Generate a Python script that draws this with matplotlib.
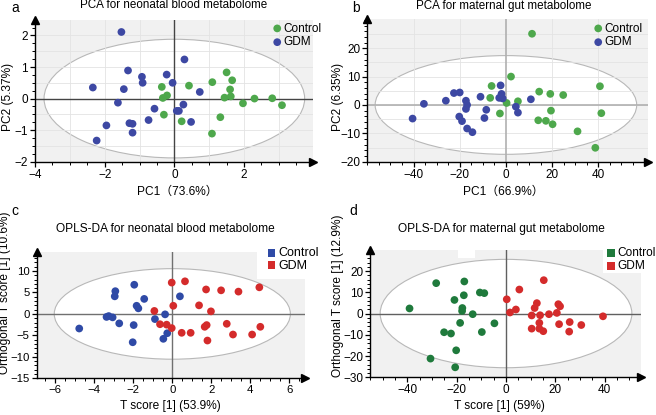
import matplotlib
matplotlib.use("Agg")
import matplotlib.pyplot as plt
from matplotlib.patches import Ellipse, Rectangle
from matplotlib.ticker import MultipleLocator, FixedLocator
import numpy as np

plt.rcParams['font.family'] = ['Liberation Sans', 'Noto Sans CJK SC', 'DejaVu Sans']

W, H = 656, 415

# ---------------- data ----------------
# a: PCA neonatal blood
a_ctrl_x = [-0.36, -0.33, -0.21, -0.30, 0.42, 0.21, 1.09, 1.50, 1.66, 1.60, 1.44, 1.62, 1.97, 2.30, 2.81, 3.09, 1.32, 1.08]
a_ctrl_y = [0.37, 0.02, 0.10, -0.51, 0.41, -0.72, 0.52, 0.83, 0.58, 0.29, 0.03, 0.07, -0.15, 0.00, 0.01, -0.21, -0.59, -1.11]
a_gdm_x = [-1.52, -2.34, -1.33, -0.93, -0.91, -1.45, -1.62, -0.22, -0.05, -0.57, -0.74, -1.29, -1.20, -1.20, -1.95, -2.23,
           0.29, 0.73, 0.26, 0.07, 0.13, 0.48]
a_gdm_y = [2.11, 0.35, 0.89, 0.69, 0.50, 0.30, -0.13, 0.76, 0.50, -0.32, -0.68, -0.78, -0.80, -1.08, -0.85, -1.33,
           1.24, 0.21, -0.19, -0.39, -0.39, -0.74]

# b: PCA maternal gut
b_ctrl_x = [11.3, 2.2, -6.2, -6.8, -2.6, 0.3, 5.2, 14.4, 19.2, 24.8, 19.5, 14.0, 17.3, 20.2, 31.0, 38.7, 40.7, 41.3]
b_ctrl_y = [25.1, 10.0, 6.7, 2.5, -3.0, 0.7, 1.3, 4.7, 3.9, 3.5, -2.0, -5.4, -5.6, -6.8, -9.3, -15.1, 6.6, -2.9]
b_gdm_x = [-40.4, -35.5, -26.0, -22.5, -20.0, -17.3, -16.8, -17.3, -20.2, -19.0, -16.8, -14.5, -11.0, -8.5, -9.3,
           -2.3, -1.9, -2.9, -1.4, 4.3, 5.2, 10.8]
b_gdm_y = [-4.8, 0.4, 1.5, 4.2, 4.4, 1.5, 0.0, -1.4, -4.1, -5.7, -8.3, -9.6, 2.9, -1.7, -4.6,
           6.9, 3.9, 2.5, 2.3, -0.6, -2.7, 2.0]

# c: OPLS-DA neonatal blood
c_ctrl_x = [-4.77, -3.37, -3.26, -3.06, -2.92, -2.95, -2.72, -1.95, -1.83, -1.74, -1.44, -1.98, -2.03, -0.89, -0.37,
            -0.26, -0.46, 0.39]
c_ctrl_y = [-3.4, -0.7, -0.5, -0.8, 5.3, 4.1, -2.2, 6.8, 1.9, 1.3, 3.5, -2.6, -6.6, -1.2, -0.1,
            -4.5, -5.8, 4.1]
c_gdm_x = [-0.92, -0.63, -0.29, -0.03, -0.03, 0.65, 0.05, 0.48, 0.94, 1.37, 1.98, 1.73, 2.50, 3.39, 4.46,
           1.66, 1.76, 1.80, 2.79, 3.11, 4.09, 4.51]
c_gdm_y = [0.7, -2.4, -2.5, -3.3, 7.3, 7.6, 1.9, -4.4, -4.4, 2.0, 0.6, 5.7, 5.5, 5.2, 6.2,
           -3.0, -2.6, -6.2, -2.3, -4.8, -4.8, -3.0]

# d: OPLS-DA maternal gut
d_ctrl_x = [-39.1, -28.3, -16.9, -17.1, -20.9, -17.7, -17.8, -13.5, -18.6, -10.6, -8.8, -4.7, -9.8, -25.1, -22.3,
            -20.2, -30.6, -20.6]
d_ctrl_y = [2.4, 14.3, 15.1, 8.6, 6.4, 2.6, 1.2, -0.3, -4.4, 9.9, 9.6, -4.6, -8.7, -8.8, -9.4,
            -17.3, -21.2, -25.3]
d_gdm_x = [0.3, 1.6, 4.0, 5.4, 15.3, 10.4, 10.4, 11.6, 12.5, 13.5, 13.8, 13.5, 15.1, 17.4, 20.6, 21.2, 21.9, 21.5,
           25.8, 25.6, 30.5, 39.3]
d_gdm_y = [6.7, 0.5, 1.9, 11.3, 15.7, -0.9, -7.1, 2.6, 4.9, -4.4, -0.8, -7.1, -8.3, -0.3, 0.3, 4.4, 3.4, -5.0,
           -4.0, -8.5, -5.4, -1.3]

labels = ["Control", "GDM"]

a_xticks = [-4, -2, 0, 2]
a_yticks = [-2, -1, 0, 1, 2]
b_xticks = [-40, -20, 0, 20, 40]
b_yticks = [-20, -10, 0, 10, 20]
c_xticks = [-6, -4, -2, 0, 2, 4, 6]
c_yticks = [-15, -10, -5, 0, 5, 10]
d_xticks = [-40, -20, 0, 20, 40]
d_yticks = [-30, -20, -10, 0, 10, 20]

# ---------------- helpers ----------------
fig = plt.figure(figsize=(W / 100, H / 100), dpi=100)


def add_ax(l, r, t, b):
    return fig.add_axes([l / W, 1 - b / H, (r - l) / W, (b - t) / H])


def ftext(x, y, s, **kw):
    fig.text(x / W, 1 - y / H, s, **kw)


BG = '#f1f1f1'


def style(ax, xlim, ylim, xt, xmin, yt, ymin, ell, cross_color, cross_lw, lsize=8.5):
    ax.set_xlim(*xlim)
    ax.set_ylim(*ylim)
    ax.set_facecolor(BG)
    ax.add_patch(Ellipse((0, 0), 2 * ell[0], 2 * ell[1], facecolor='white', edgecolor='#b8b8b8', lw=0.8, zorder=0.5))
    ax.axhline(0, color=cross_color, lw=cross_lw, zorder=1.5)
    ax.axvline(0, color=cross_color, lw=cross_lw, zorder=1.5)
    for s in ['top', 'right']:
        ax.spines[s].set_visible(False)
    for s in ['left', 'bottom']:
        ax.spines[s].set_linewidth(1.0)
        ax.spines[s].set_color('black')
    ax.xaxis.set_major_locator(FixedLocator(xt))
    ax.xaxis.set_minor_locator(MultipleLocator(xmin))
    ax.yaxis.set_major_locator(FixedLocator(yt))
    ax.yaxis.set_minor_locator(MultipleLocator(ymin))
    ax.tick_params(which='major', direction='out', length=3.5, width=0.9, labelsize=lsize, pad=1.5)
    ax.tick_params(which='minor', direction='out', length=2, width=0.7)
    # arrows at spine ends
    ax.plot([1], [0], marker='>', color='black', markersize=6, transform=ax.transAxes, clip_on=False, zorder=5)
    ax.plot([0], [1], marker='^', color='black', markersize=6, transform=ax.transAxes, clip_on=False, zorder=5)


def add_grid(ax, xs, ys):
    for x in xs:
        ax.axvline(x, color='#e3e3e3', lw=0.6, zorder=0.8)
    for y in ys:
        ax.axhline(y, color='#e3e3e3', lw=0.6, zorder=0.8)


MS = 31
blue = '#3d48a3'
green = '#4ea84c'
blue_c = '#2f4aa6'
red = '#d42b2b'
dgreen = '#1f7a3c'

# ---------------- panel a ----------------
ax = add_ax(35, 313, 20, 161.7)
style(ax, (-4.0, 3.98), (-2.0, 2.49), a_xticks, 0.5, a_yticks, 0.25, (3.74, 1.88), '#444444', 1.0)
add_grid(ax, np.arange(-3, 4, 1), np.arange(-1.5, 2.5, 0.5))
ax.scatter(a_ctrl_x, a_ctrl_y, s=MS, color=green, edgecolors='none', zorder=3, label=labels[0])
ax.scatter(a_gdm_x, a_gdm_y, s=MS, color=blue, edgecolors='none', zorder=3, label=labels[1])
ax.legend(loc='upper left', bbox_to_anchor=(272.5 / W, 1 - 22.5 / H), bbox_transform=fig.transFigure,
          frameon=False, fontsize=8.5, handlelength=0.8, handletextpad=0.15, labelspacing=0.15,
          borderpad=0, borderaxespad=0)

# ---------------- panel b ----------------
ax = add_ax(367.3, 648, 19, 161.7)
style(ax, (-60, 61.5), (-20, 30.3), b_xticks, 5, b_yticks, 2, (56.6, 17.4), '#b0b0b0', 1.2)
add_grid(ax, [-40, -20, 20, 40], np.arange(-15, 30, 5))
ax.scatter(b_ctrl_x, b_ctrl_y, s=MS, color=green, edgecolors='none', zorder=3, label=labels[0])
ax.scatter(b_gdm_x, b_gdm_y, s=MS, color=blue, edgecolors='none', zorder=3, label=labels[1])
ax.legend(loc='upper left', bbox_to_anchor=(593.5 / W, 1 - 22.5 / H), bbox_transform=fig.transFigure,
          frameon=False, fontsize=8.5, handlelength=0.8, handletextpad=0.15, labelspacing=0.15,
          borderpad=0, borderaxespad=0)

# ---------------- panel c ----------------
ax = add_ax(36.7, 305, 251.7, 378.3)
style(ax, (-6.95, 6.8), (-15, 14.5), c_xticks, 0.5, c_yticks, 1, (6.05, 10.55), '#707070', 1.0, lsize=8.2)
ax.add_patch(Rectangle(((257 - 36.7) / (305 - 36.7), (378.3 - 279) / (378.3 - 251.7)), 1, 1,
                       transform=ax.transAxes, facecolor='white', edgecolor='none', zorder=0.3))
ax.scatter(c_ctrl_x, c_ctrl_y, s=MS, color=blue_c, edgecolors='none', zorder=3)
ax.scatter(c_gdm_x, c_gdm_y, s=MS, color=red, edgecolors='none', zorder=3)
h1 = ax.scatter([], [], s=MS, marker='s', color=blue_c, edgecolors='none')
h2 = ax.scatter([], [], s=MS, marker='s', color=red, edgecolors='none')
ax.legend([h1, h2], labels, loc='upper left', bbox_to_anchor=(266.5 / W, 1 - 247 / H), bbox_transform=fig.transFigure,
          frameon=False, fontsize=9, handlelength=0.8, handletextpad=0.15, labelspacing=0.05,
          borderpad=0, borderaxespad=0)

# ---------------- panel d ----------------
ax = add_ax(370.3, 641, 250, 377.3)
style(ax, (-55, 54.7), (-30, 29.9), d_xticks, 5, d_yticks, 2, (51, 25.5), '#606060', 1.0)
ax.add_patch(Rectangle(((603 - 370.3) / (641 - 370.3), (377.3 - 273) / (377.3 - 250)), 1, 1,
                       transform=ax.transAxes, facecolor='white', edgecolor='none', zorder=0.3))
ax.add_patch(Rectangle(((458 - 370.3) / (641 - 370.3), (377.3 - 258) / (377.3 - 250)),
                       17 / (641 - 370.3), 1, transform=ax.transAxes, facecolor='white', edgecolor='none', zorder=0.3))
ax.scatter(d_ctrl_x, d_ctrl_y, s=MS, color=dgreen, edgecolors='none', zorder=3)
ax.scatter(d_gdm_x, d_gdm_y, s=MS, color=red, edgecolors='none', zorder=3)
h1 = ax.scatter([], [], s=MS, marker='s', color=dgreen, edgecolors='none')
h2 = ax.scatter([], [], s=MS, marker='s', color=red, edgecolors='none')
ax.legend([h1, h2], labels, loc='upper left', bbox_to_anchor=(606.5 / W, 1 - 247 / H), bbox_transform=fig.transFigure,
          frameon=False, fontsize=8.6, handlelength=0.8, handletextpad=0.1, labelspacing=0.1,
          borderpad=0, borderaxespad=0)

# ---------------- texts ----------------
ftext(15, 8, 'a', fontsize=10, ha='center', va='center')
ftext(356, 8, 'b', fontsize=10, ha='center', va='center')
ftext(15, 211, 'c', fontsize=10, ha='center', va='center')
ftext(353, 211, 'd', fontsize=10, ha='center', va='center')

ftext(174, 5.5, 'PCA for neonatal blood metabolome', fontsize=8.4, ha='center', va='center')
ftext(504, 5.5, 'PCA for maternal gut metabolome', fontsize=8.4, ha='center', va='center')
ftext(165, 229, 'OPLS-DA for neonatal blood metabolome', fontsize=8.6, ha='center', va='center')
ftext(501, 229, 'OPLS-DA for maternal gut metabolome', fontsize=8.6, ha='center', va='center')

ftext(177, 192, 'PC1（73.6%）', fontsize=8.6, ha='center', va='center')
ftext(503, 192, 'PC1（66.9%）', fontsize=8.6, ha='center', va='center')
ftext(170, 406, 'T score [1] (53.9%)', fontsize=8.6, ha='center', va='center')
ftext(499, 406, 'T score [1] (59%)', fontsize=8.6, ha='center', va='center')

ftext(8, 97, 'PC2 (5.37%)', fontsize=8.6, ha='center', va='center', rotation=90)
ftext(338, 97, 'PC2 (6.35%)', fontsize=8.6, ha='center', va='center', rotation=90)
ftext(5, 293, 'Orthogonal T score [1] (10.6%)', fontsize=8.6, ha='center', va='center', rotation=90)
ftext(338, 296, 'Orthogonal T score [1] (12.9%)', fontsize=8.6, ha='center', va='center', rotation=90)

fig.savefig('out.png', dpi=100, facecolor='white')
